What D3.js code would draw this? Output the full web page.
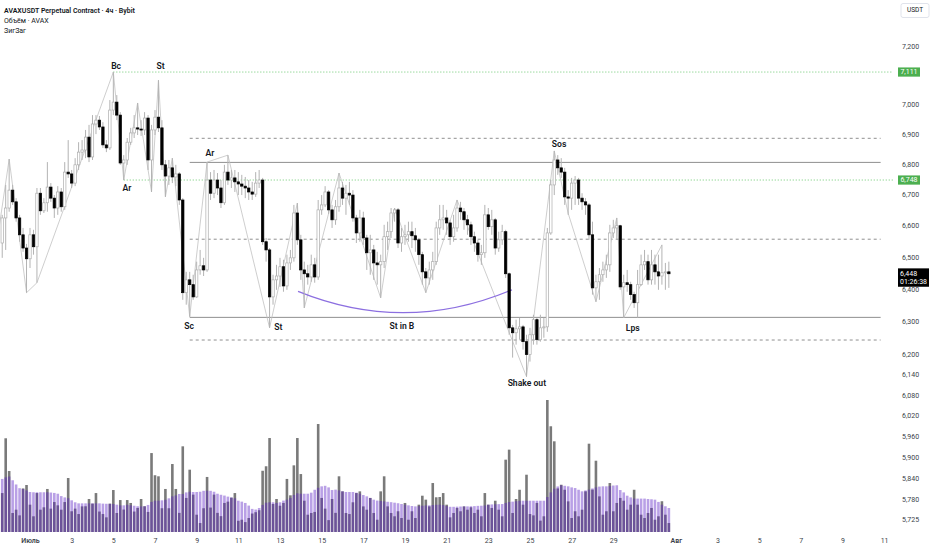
<!DOCTYPE html>
<html>
<head>
<meta charset="utf-8">
<script src="https://cdn.jsdelivr.net/npm/d3@7"></script>
<style>
  body { margin: 0; background: #fff; }
  svg { display: block; font-family: Roboto, "Noto Sans", sans-serif; }
</style>
</head>
<body>
<svg width="932" height="550"></svg>
<script>
//
// data: 4h candles, first one is 8 bars before 1 July 00:00
//
var firstBar = new Date(2024, 6, 1, 0, 0);
var startIndex = -8;

var opens = [6.545,6.625,6.657,6.715,6.677,6.625,6.571,6.529,6.495,6.571,6.533,6.705,6.648,6.674,6.725,6.689,6.657,6.709,6.661,6.774,
  6.768,6.738,6.798,6.840,6.847,6.890,6.824,6.934,6.947,6.924,6.864,6.854,6.981,7.008,6.964,6.804,6.814,6.873,6.904,6.921,
  6.917,6.914,6.954,6.814,6.914,6.957,6.921,6.798,6.761,6.788,6.758,6.768,6.683,6.389,6.429,6.414,6.376,6.460,6.473,6.460,
  6.748,6.705,6.748,6.722,6.674,6.774,6.748,6.755,6.742,6.735,6.728,6.722,6.709,6.702,6.738,6.748,6.549,6.523,6.376,6.429,
  6.441,6.470,6.410,6.482,6.498,6.641,6.555,6.460,6.448,6.438,6.476,6.438,6.651,6.667,6.709,6.651,6.619,6.661,6.722,6.689,
  6.705,6.699,6.625,6.577,6.625,6.561,6.514,6.523,6.482,6.476,6.486,6.565,6.581,6.641,6.651,6.545,6.565,6.571,6.581,6.568,
  6.555,6.508,6.454,6.435,6.460,6.486,6.593,6.619,6.625,6.609,6.565,6.593,6.657,6.645,6.619,6.603,6.565,6.545,6.508,6.514,
  6.635,6.597,6.619,6.529,6.555,6.581,6.448,6.281,6.266,6.278,6.284,6.239,6.200,6.260,6.306,6.245,6.281,6.284,6.577,6.732,
  6.814,6.788,6.774,6.693,6.689,6.738,6.748,6.689,6.677,6.667,6.571,6.404,6.423,6.445,6.460,6.476,6.577,6.593,6.600,6.407,
  6.420,6.414,6.383,6.358,6.414,6.476,6.486,6.429,6.476,6.454,6.441,6.451,6.454];
var highs = [6.635,6.732,6.817,6.732,6.689,6.635,6.593,6.542,6.593,6.587,6.722,6.722,6.689,6.807,6.738,6.699,6.728,6.722,6.807,6.880,
  6.781,6.820,6.873,6.880,6.914,6.931,6.964,6.964,6.961,6.940,6.880,7.015,7.111,7.032,6.974,6.830,6.887,6.921,6.964,7.005,
  6.947,6.974,6.964,6.931,6.981,7.083,6.947,6.814,6.814,6.820,6.798,6.774,6.689,6.454,6.454,6.445,6.486,6.523,6.498,6.807,
  6.774,6.781,6.771,6.748,6.798,6.830,6.781,6.781,6.774,6.765,6.758,6.748,6.742,6.774,6.781,6.755,6.561,6.529,6.445,6.476,
  6.498,6.492,6.508,6.523,6.667,6.673,6.571,6.486,6.476,6.508,6.498,6.683,6.699,6.728,6.715,6.667,6.683,6.771,6.742,6.732,
  6.742,6.715,6.635,6.651,6.645,6.571,6.571,6.539,6.517,6.508,6.603,6.613,6.657,6.657,6.657,6.593,6.603,6.613,6.613,6.593,
  6.561,6.517,6.466,6.486,6.517,6.613,6.667,6.667,6.651,6.619,6.635,6.683,6.677,6.657,6.635,6.613,6.581,6.555,6.539,6.667,
  6.657,6.651,6.625,6.581,6.603,6.587,6.452,6.290,6.306,6.312,6.290,6.260,6.281,6.321,6.312,6.321,6.312,6.593,6.748,6.844,
  6.830,6.820,6.788,6.715,6.755,6.761,6.755,6.705,6.689,6.673,6.613,6.445,6.466,6.486,6.508,6.603,6.619,6.625,6.603,6.445,
  6.460,6.423,6.392,6.460,6.508,6.523,6.508,6.523,6.508,6.508,6.539,6.482,6.486];
var lows = [6.498,6.523,6.645,6.667,6.613,6.549,6.517,6.389,6.466,6.508,6.420,6.635,6.641,6.645,6.677,6.625,6.635,6.645,6.651,6.755,
  6.722,6.728,6.781,6.814,6.820,6.807,6.814,6.900,6.914,6.854,6.840,6.847,6.964,6.947,6.798,6.748,6.798,6.864,6.887,6.897,
  6.894,6.897,6.781,6.709,6.897,6.907,6.781,6.693,6.732,6.738,6.728,6.667,6.367,6.352,6.315,6.367,6.373,6.445,6.441,6.454,
  6.683,6.689,6.699,6.657,6.667,6.732,6.722,6.709,6.699,6.699,6.689,6.683,6.683,6.693,6.722,6.539,6.486,6.281,6.352,6.398,
  6.407,6.392,6.398,6.460,6.486,6.539,6.429,6.342,6.414,6.423,6.420,6.429,6.635,6.660,6.638,6.593,6.603,6.645,6.667,6.635,
  6.667,6.613,6.545,6.549,6.539,6.460,6.445,6.429,6.414,6.373,6.466,6.523,6.561,6.613,6.529,6.517,6.539,6.549,6.529,6.517,
  6.476,6.414,6.389,6.414,6.429,6.476,6.571,6.587,6.571,6.539,6.549,6.581,6.619,6.587,6.571,6.539,6.517,6.486,6.476,6.498,
  6.587,6.571,6.508,6.517,6.539,6.435,6.260,6.191,6.230,6.245,6.215,6.134,6.179,6.230,6.230,6.239,6.251,6.269,6.571,6.699,
  6.765,6.755,6.667,6.635,6.651,6.667,6.667,6.651,6.635,6.555,6.383,6.361,6.367,6.423,6.435,6.454,6.561,6.555,6.398,6.312,
  6.392,6.367,6.342,6.312,6.410,6.460,6.414,6.414,6.414,6.398,6.414,6.398,6.404];
var closes = [6.625,6.657,6.715,6.677,6.625,6.571,6.529,6.495,6.571,6.533,6.705,6.648,6.674,6.725,6.689,6.657,6.709,6.661,6.774,6.768,
  6.738,6.798,6.840,6.847,6.890,6.824,6.934,6.947,6.924,6.864,6.854,6.981,7.008,6.964,6.804,6.814,6.873,6.904,6.921,6.917,
  6.914,6.954,6.814,6.914,6.957,6.921,6.798,6.761,6.788,6.758,6.768,6.683,6.389,6.429,6.414,6.376,6.460,6.473,6.460,6.748,
  6.705,6.748,6.722,6.674,6.774,6.748,6.755,6.742,6.735,6.728,6.722,6.709,6.702,6.738,6.748,6.549,6.523,6.376,6.429,6.441,
  6.470,6.410,6.482,6.498,6.641,6.555,6.460,6.448,6.438,6.476,6.438,6.651,6.667,6.709,6.651,6.619,6.661,6.722,6.689,6.705,
  6.699,6.625,6.577,6.625,6.561,6.514,6.523,6.482,6.476,6.486,6.565,6.581,6.641,6.651,6.545,6.565,6.571,6.581,6.568,6.555,
  6.508,6.454,6.435,6.460,6.486,6.593,6.619,6.625,6.609,6.565,6.593,6.657,6.645,6.619,6.603,6.565,6.545,6.508,6.514,6.635,
  6.597,6.619,6.529,6.555,6.581,6.448,6.281,6.266,6.278,6.284,6.239,6.200,6.260,6.306,6.245,6.281,6.284,6.577,6.732,6.814,
  6.788,6.774,6.693,6.689,6.738,6.748,6.689,6.677,6.667,6.571,6.404,6.423,6.445,6.460,6.476,6.577,6.593,6.600,6.407,6.420,
  6.414,6.383,6.358,6.414,6.476,6.486,6.429,6.476,6.454,6.441,6.451,6.454,6.448];

// volume (thousand AVAX) and its moving average, read per bar
var volumes = [295,710,462,144,169,126,330,356,207,119,295,169,187,326,177,227,202,169,227,409,
  157,177,136,194,195,250,215,295,155,136,111,215,318,144,242,170,242,220,155,182,
  250,195,152,598,430,422,180,326,180,515,326,145,649,258,472,283,131,68,180,417,
  185,283,145,120,220,230,260,295,85,93,75,106,140,150,165,464,498,712,212,250,
  199,220,402,278,505,712,439,237,131,144,152,818,258,177,90,250,145,422,308,144,
  136,225,295,308,194,169,258,144,93,308,422,194,144,119,157,106,220,93,157,106,
  207,275,245,194,371,263,265,295,207,111,144,182,157,194,169,187,144,169,119,295,
  207,182,237,169,119,548,624,144,250,320,207,434,136,126,220,86,119,1000,801,687,
  330,358,320,232,106,157,119,169,308,669,321,540,270,131,157,371,157,220,258,237,
  169,207,320,207,131,106,144,182,93,119,233,131,68];
var volumeMA = [402,414,420,392,360,332,326,315,303,301,301,301,301,301,299,296,290,272,262,256,
  240,225,217,217,217,217,217,217,217,215,214,213,212,207,202,202,206,202,199,195,
  194,195,205,228,237,237,240,244,255,270,277,288,288,300,305,303,303,305,312,313,
  312,305,290,282,276,268,262,255,237,230,220,200,175,170,182,205,222,225,225,220,
  225,238,245,258,280,293,290,290,290,298,320,335,346,350,338,318,321,315,308,303,
  303,303,298,290,280,270,258,245,238,235,232,229,226,222,218,212,207,202,197,194,
  196,199,201,202,204,206,207,204,197,191,191,192,193,194,194,195,196,198,199,201,
  207,209,210,211,212,220,227,230,233,236,237,237,237,237,237,237,237,265,300,328,
  345,354,350,346,338,333,320,308,315,321,330,338,344,346,346,348,352,354,318,300,
  275,262,253,253,253,253,250,248,245,228,207,195,182];

// zigzag pivots (bar index, price)
var zigzagIdx = [-9, -6, -1, 2, 24, 27, 31, 35, 37, 39, 41, 46, 51, 57, 69, 77, 79, 89, 101, 105, 114, 123, 143, 151, 155, 163, 169, 171, 182];
var zigzagPrice = [6.587, 6.817, 6.389, 6.420, 7.111, 6.748, 7.005, 6.709, 7.083, 6.693, 6.820, 6.315, 6.807, 6.830, 6.281, 6.673, 6.342,
  6.771, 6.373, 6.657, 6.389, 6.683, 6.134, 6.844, 6.640, 6.361, 6.625, 6.312, 6.539];

// range levels drawn from the selling climax onwards
var rangeStartIdx = 46;
var rangeEndIdx = 245;
var solidLevels = [6.806, 6.313];
var dashedLevels = [6.886, 6.557, 6.244];
var greenLevels = [7.111, 6.748];
var greenStartIdx = [24, 27];

// Wyckoff labels
var labelTexts = ["Bc", "St", "Ar", "Ar", "Sc", "St", "St in B", "Shake out", "Sos", "Lps"];
var labelIdx = [24.8, 37.6, 27.9, 51.8, 45.8, 71.5, 107.1, 143.1, 152.4, 173.6];
var labelPrice = [7.130, 7.130, 6.718, 6.834, 6.283, 6.280, 6.285, 6.112, 6.864, 6.277];

// accumulation arc (start, control, end)
var arcIdx = [77.2, 108, 138.8];
var arcPrice = [6.393, 6.260, 6.398];

var priceTicks = [7.2, 7.0, 6.9, 6.8, 6.7, 6.6, 6.5, 6.4, 6.3, 6.2, 6.14, 6.08, 6.02, 5.96, 5.90, 5.84, 5.78, 5.725];
var dateTicks = [[2024,6,1],[2024,6,3],[2024,6,5],[2024,6,7],[2024,6,9],[2024,6,11],[2024,6,13],[2024,6,15],[2024,6,17],
  [2024,6,19],[2024,6,21],[2024,6,23],[2024,6,25],[2024,6,27],[2024,6,29],[2024,7,1],[2024,7,3],[2024,7,5],[2024,7,7],[2024,7,9],[2024,7,11]];
var dateTickLabels = ["Июль","3","5","7","9","11","13","15","17","19","21","23","25","27","29","Авг","3","5","7","9","11"];
var countdown = "01:26:38";

//
// scales
//
var svg = d3.select("svg");
var ink = "#131722";

function timeAt(i) { return new Date(firstBar.getTime() + i * 4 * 3600 * 1000); }

var x = d3.scaleTime()
  .domain([new Date(2024, 6, 1), new Date(2024, 7, 1)])
  .range([30, 675.8]);
var y = d3.scaleLog()
  .domain([6.2, 7.2])
  .range([354.6, 46.4]);
var vy = d3.scaleLinear()
  .domain([0, 1000])
  .range([532, 400]);

var fmt = d3.formatLocale({ decimal: ",", thousands: " ", grouping: [3], currency: ["", ""] }).format(".3f");

var bars = opens.map(function(o, i) {
  return { t: timeAt(i + startIndex), o: o, h: highs[i], l: lows[i], c: closes[i], v: volumes[i], ma: volumeMA[i] };
});

svg.append("defs").append("clipPath").attr("id", "pane")
  .append("rect").attr("x", 0).attr("y", 0).attr("width", 893).attr("height", 550);
var pane = svg.append("g").attr("clip-path", "url(#pane)");

//
// volume pane
//
var vol = pane.append("g");
vol.selectAll(".vbar").data(bars).join("rect")
  .attr("class", "vbar")
  .attr("x", function(d) { return x(d.t) - 1.3; })
  .attr("width", 2.6)
  .attr("y", function(d) { return vy(d.v); })
  .attr("height", function(d) { return vy(0) - vy(d.v); })
  .attr("fill", "#7a7a7a");
vol.selectAll(".mabar").data(bars).join("rect")
  .attr("class", "mabar")
  .attr("x", function(d) { return x(d.t) - 1.3; })
  .attr("width", 2.6)
  .attr("y", function(d) { return vy(d.ma); })
  .attr("height", function(d) { return vy(0) - vy(d.ma); })
  .attr("fill", "rgb(88,29,195)")
  .attr("fill-opacity", 0.42);

//
// levels
//
solidLevels.forEach(function(p) {
  pane.append("line")
    .attr("x1", x(timeAt(rangeStartIdx))).attr("x2", x(timeAt(rangeEndIdx)))
    .attr("y1", y(p)).attr("y2", y(p))
    .attr("stroke", "#8f8f8f").attr("stroke-width", 1);
});
dashedLevels.forEach(function(p) {
  pane.append("line")
    .attr("x1", x(timeAt(rangeStartIdx))).attr("x2", x(timeAt(rangeEndIdx)))
    .attr("y1", y(p)).attr("y2", y(p))
    .attr("stroke", "#8f8f8f").attr("stroke-width", 1)
    .attr("stroke-dasharray", "3,3");
});
greenLevels.forEach(function(p, i) {
  pane.append("line")
    .attr("x1", x(timeAt(greenStartIdx[i]))).attr("x2", 900)
    .attr("y1", y(p)).attr("y2", y(p))
    .attr("stroke", "#6cc870").attr("stroke-width", 1)
    .attr("stroke-dasharray", "1,2");
});

//
// zigzag + arc
//
var zz = zigzagIdx.map(function(k, i) { return [x(timeAt(k)), y(zigzagPrice[i])]; });
pane.append("path")
  .attr("d", d3.line()(zz))
  .attr("fill", "none").attr("stroke", "#c2c2c2").attr("stroke-width", 0.8);

var a = arcIdx.map(function(k, i) { return [x(timeAt(k)), y(arcPrice[i])]; });
pane.append("path")
  .attr("d", "M" + a[0] + "Q" + a[1] + " " + a[2])
  .attr("fill", "none").attr("stroke", "#8c6fe0").attr("stroke-width", 1.3);

//
// candles
//
var candle = pane.selectAll(".candle").data(bars).join("g").attr("class", "candle");
candle.append("line")
  .attr("x1", function(d) { return x(d.t); })
  .attr("x2", function(d) { return x(d.t); })
  .attr("y1", function(d) { return y(d.h); })
  .attr("y2", function(d) { return y(d.l); })
  .attr("stroke", "#b3b3b3").attr("stroke-width", 1);
candle.append("rect")
  .attr("x", function(d) { return x(d.t) - 1.2; })
  .attr("width", 2.4)
  .attr("y", function(d) { return y(Math.max(d.o, d.c)); })
  .attr("height", function(d) { return Math.max(1, Math.abs(y(d.o) - y(d.c))); })
  .attr("fill", function(d) { return d.c >= d.o ? "#fff" : "#000"; })
  .attr("stroke", function(d) { return d.c >= d.o ? "#adadad" : "#000"; })
  .attr("stroke-width", 0.7);

//
// labels
//
pane.selectAll(".wy").data(labelTexts).join("text")
  .attr("class", "wy")
  .attr("x", function(d, i) { return x(timeAt(labelIdx[i])); })
  .attr("y", function(d, i) { return y(labelPrice[i]); })
  .attr("text-anchor", "middle").attr("dominant-baseline", "middle")
  .attr("font-size", 8.6).attr("font-weight", 600).attr("fill", ink)
  .text(function(d) { return d; });

// header
var head = svg.append("g").attr("fill", ink).attr("font-size", 7);
head.append("text").attr("x", 4).attr("y", 12.5).attr("font-weight", 600).text("AVAXUSDT Perpetual Contract · 4ч · Bybit");
head.append("text").attr("x", 4).attr("y", 23).text("Объём · AVAX");
head.append("text").attr("x", 4).attr("y", 33).text("ЗигЗаг");

//
// axes
//
var yAxis = svg.append("g")
  .attr("transform", "translate(902,0)")
  .call(d3.axisRight(y).tickValues(priceTicks).tickFormat(fmt).tickSize(0).tickPadding(0));
yAxis.select(".domain").remove();
yAxis.selectAll("text").attr("font-size", 7).attr("fill", "#3b3f4a").attr("font-family", "Roboto, sans-serif");

var xAxis = svg.append("g")
  .attr("transform", "translate(0,536)")
  .call(d3.axisBottom(x)
    .tickValues(dateTicks.map(function(d) { return new Date(d[0], d[1], d[2]); }))
    .tickFormat(function(d, i) { return dateTickLabels[i]; })
    .tickSize(0).tickPadding(2));
xAxis.select(".domain").remove();
xAxis.selectAll("text").attr("font-size", 7).attr("fill", "#3b3f4a").attr("font-family", "Roboto, sans-serif")
  .attr("font-weight", function(d, i) { return isNaN(+dateTickLabels[i]) ? 600 : 400; });

// currency box
svg.append("rect").attr("x", 901).attr("y", 3.5).attr("width", 28).attr("height", 14).attr("rx", 2)
  .attr("fill", "#fff").attr("stroke", "#e0e3eb");
svg.append("text").attr("x", 915).attr("y", 10.5).attr("text-anchor", "middle").attr("dominant-baseline", "middle")
  .attr("font-size", 6.5).attr("fill", ink).text("USDT");

// price tags
greenLevels.forEach(function(p) {
  svg.append("rect").attr("x", 898).attr("y", y(p) - 4.6).attr("width", 22).attr("height", 9.2).attr("fill", "#4caf50");
  svg.append("text").attr("x", 909).attr("y", y(p)).attr("text-anchor", "middle").attr("dominant-baseline", "middle")
    .attr("font-size", 7).attr("fill", "#fff").text(fmt(p));
});
var last = closes[closes.length - 1];
svg.append("rect").attr("x", 898).attr("y", y(last) - 5.4).attr("width", 31).attr("height", 18.4).attr("fill", "#000");
svg.append("text").attr("x", 900).attr("y", y(last)).attr("dominant-baseline", "middle")
  .attr("font-size", 7).attr("fill", "#fff").text(fmt(last));
svg.append("text").attr("x", 900).attr("y", y(last) + 8.4).attr("dominant-baseline", "middle")
  .attr("font-size", 7).attr("fill", "#fff").text(countdown);
</script>
</body>
</html>
